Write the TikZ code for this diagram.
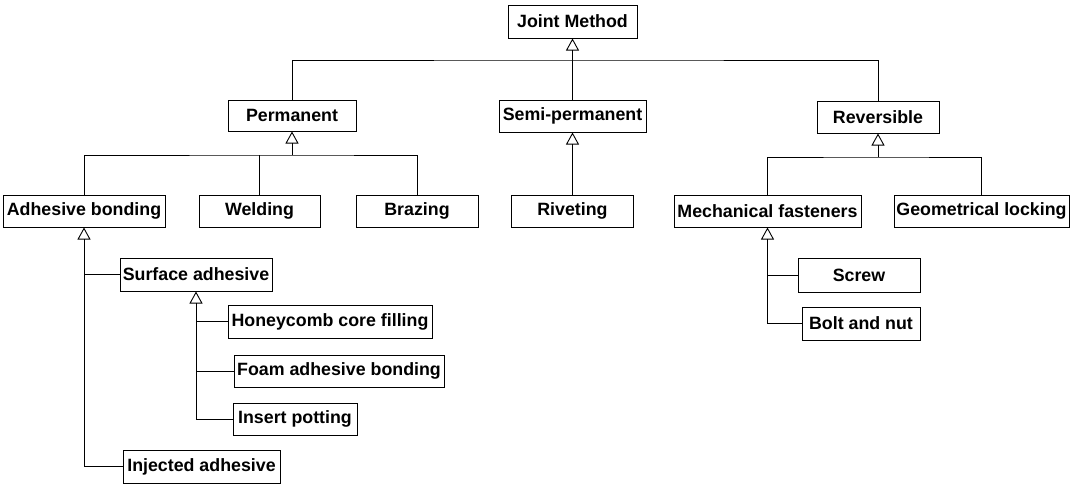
\documentclass[tikz,border=0pt]{standalone}
\usepackage{fontspec}
\setmainfont{Liberation Sans}
\usetikzlibrary{arrows.meta}
\begin{document}
\begin{tikzpicture}[x=1pt,y=-1pt,
  box/.style={draw, line width=1pt, inner sep=0pt, minimum height=32pt,
    font=\fontsize{17.8}{20}\selectfont\bfseries},
  link/.style={line width=0.9pt},
  gen/.style={link, -{Triangle[open, length=12pt, width=13pt, line width=0.9pt]}}]
\useasboundingbox (0,0) rectangle (1071,485);
% level 0
\node[box, minimum width=129pt, minimum height=33pt] (jm) at (572.5,21.5) {Joint Method};
% level 1
\node[box, minimum width=128pt, minimum height=31pt] (perm) at (292,115.5) {Permanent};
\node[box, minimum width=147pt] (semi) at (572.5,116) {Semi-permanent};
\node[box, minimum width=122pt] (rev) at (878,117) {Reversible};
% level 2
\node[box, minimum width=162pt] (adh) at (84,211) {Adhesive bonding};
\node[box, minimum width=121pt] (weld) at (259.5,211) {Welding};
\node[box, minimum width=122pt] (braz) at (417,211) {Brazing};
\node[box, minimum width=122pt] (riv) at (572.5,211) {Riveting};
\node[box, minimum width=187pt] (mech) at (767.5,211) {Mechanical fasteners};
\node[box, minimum width=175pt] (geo) at (981.5,211) {Geometrical locking};
% adhesive subtree
\node[box, minimum width=152pt, minimum height=33pt] (surf) at (196,274.5) {Surface adhesive};
\node[box, minimum width=204pt, minimum height=33pt] (honey) at (330,321.5) {Honeycomb core filling};
\node[box, minimum width=210pt] (foam) at (339,371) {Foam adhesive bonding};
\node[box, minimum width=124pt] (insert) at (295,419) {Insert potting};
\node[box, minimum width=157pt, minimum height=33pt] (inj) at (201.5,466.5) {Injected adhesive};
% mechanical subtree
\node[box, minimum width=122pt, minimum height=34pt] (screw) at (859,275) {Screw};
\node[box, minimum width=118pt, minimum height=33pt] (bolt) at (861,323.5) {Bolt and nut};
% bus coordinates
\coordinate (b1) at (572.5,60);
\coordinate (b2) at (292,155);
\coordinate (b3) at (878,157);
% top level
\draw[gen] (semi.north) -- (jm.south);
\draw[link] (perm.north) |- (b1) -| (rev.north);
% permanent
\draw[gen] (b2) -- (perm.south);
\draw[link] (adh.north) |- (b2) -| (braz.north);
\draw[link] (weld.north) -- (weld.north |- b2);
% semi-permanent
\draw[gen] (riv.north) -- (semi.south);
% reversible
\draw[gen] (b3) -- (rev.south);
\draw[link] (mech.north) |- (b3) -| (geo.north);
% adhesive bonding
\draw[gen] (inj.west) -| (adh.south);
\draw[link] (surf.west) -- (surf.west -| adh.south);
% surface adhesive
\draw[gen] (insert.west) -| (surf.south);
\draw[link] (honey.west) -- (honey.west -| surf.south);
\draw[link] (foam.west) -- (foam.west -| surf.south);
% mechanical fasteners
\draw[gen] (bolt.west) -| (mech.south);
\draw[link] (screw.west) -- (screw.west -| mech.south);
\end{tikzpicture}
\end{document}
